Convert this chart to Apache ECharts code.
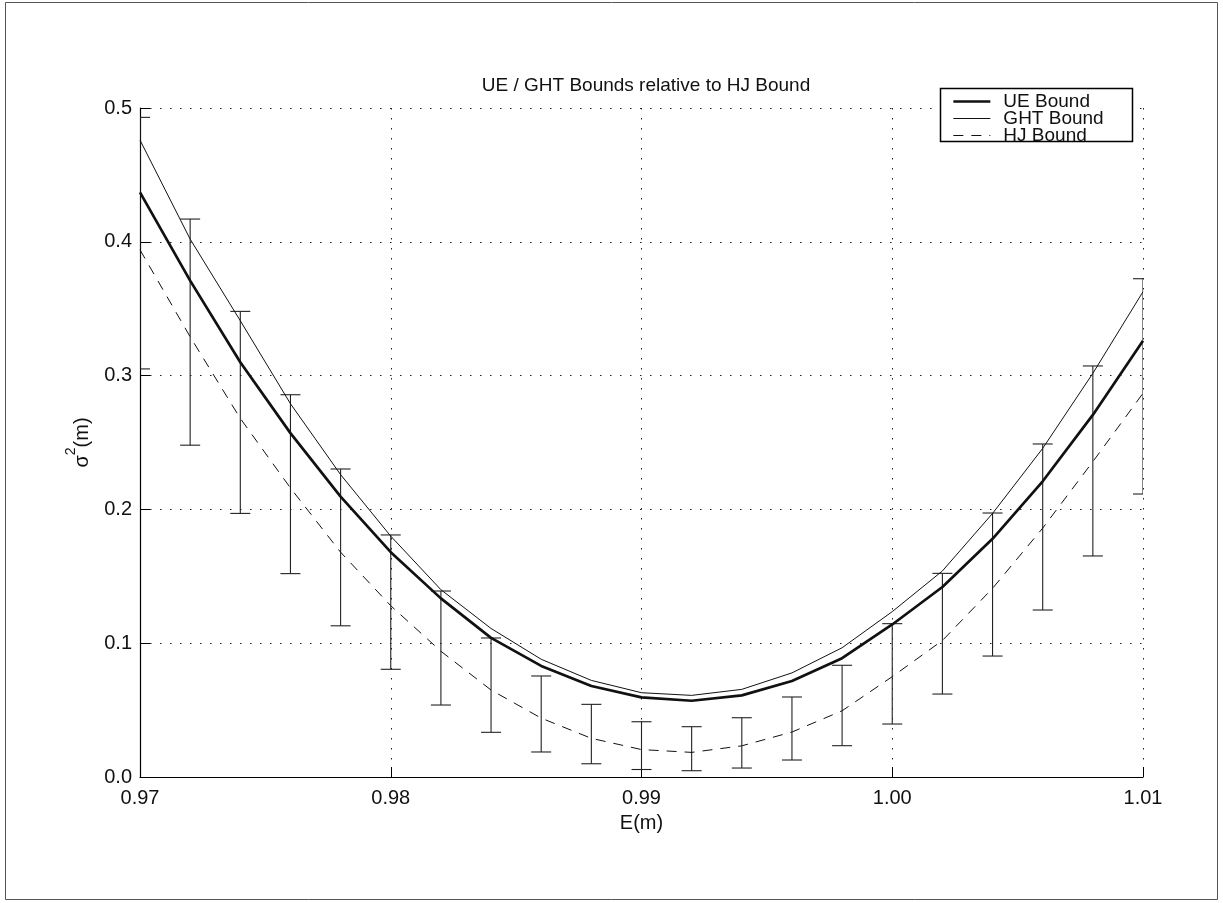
<!DOCTYPE html>
<html>
<head>
<meta charset="utf-8">
<script src="https://cdn.jsdelivr.net/npm/echarts@6/dist/echarts.min.js"></script>
<style>
html,body{margin:0;padding:0;background:#fff;}
#chart{width:1223px;height:903px;}
</style>
</head>
<body>
<div id="chart"></div>
<script>
// ---- data ----
var energies = [0.970, 0.972, 0.974, 0.976, 0.978, 0.980, 0.982, 0.984, 0.986, 0.988, 0.990,
                0.992, 0.994, 0.996, 0.998, 1.000, 1.002, 1.004, 1.006, 1.008, 1.010];
var ueBound  = [0.437, 0.371, 0.310, 0.257, 0.2095, 0.168, 0.1335, 0.104, 0.083, 0.068, 0.0595,
                0.057, 0.061, 0.0717, 0.0888, 0.114, 0.142, 0.178, 0.221, 0.2706, 0.326];
var ghtBound = [0.476, 0.402, 0.341, 0.279, 0.226, 0.180, 0.140, 0.111, 0.088, 0.0722, 0.063,
                0.061, 0.0655, 0.0778, 0.0966, 0.1236, 0.154, 0.197, 0.2456, 0.3017, 0.3627];
var hjBound  = [0.394, 0.329, 0.268, 0.216, 0.168, 0.128, 0.094, 0.065, 0.044, 0.0289, 0.0205,
                0.0184, 0.0233, 0.0336, 0.0495, 0.075, 0.102, 0.141, 0.186, 0.2357, 0.2868];
var errTop   = [0.493, 0.417, 0.348, 0.2857, 0.2302, 0.1809, 0.139, 0.1039, 0.0755, 0.0543, 0.0413,
                0.0376, 0.0443, 0.0598, 0.0835, 0.1146, 0.1522, 0.1973, 0.2489, 0.3072, 0.3724];
var errBottom= [0.305, 0.248, 0.197, 0.152, 0.113, 0.0805, 0.0538, 0.0334, 0.0187, 0.0099, 0.0056,
                0.0047, 0.0067, 0.0127, 0.0234, 0.0396, 0.062, 0.0904, 0.1248, 0.1652, 0.2115];
var xTickLabels = ['0.97', '0.98', '0.99', '1.00', '1.01'];
var yTickLabels = ['0.0', '0.1', '0.2', '0.3', '0.4', '0.5'];
var seriesNames = ['UE Bound', 'GHT Bound', 'HJ Bound'];
var titleText = 'UE / GHT Bounds relative to HJ Bound';

// ---- build ----
function pairs(ys){ return energies.map(function(x,i){ return [x, ys[i]]; }); }
var errData = energies.map(function(x,i){ return [x, errBottom[i], errTop[i]]; });

var FONT = '"Liberation Sans", Arial, Helvetica, sans-serif';
var FS = 20;
var gridDots = { color: '#222', width: 1, type: [1.5, 8.5] };
var styles = [
  { color: '#111', width: 2.7, type: 'solid' },
  { color: '#111', width: 1, type: 'solid' },
  { color: '#111', width: 1, type: [10, 8] }
];

var chart = echarts.init(document.getElementById('chart'), null, {renderer: 'canvas'});
chart.setOption({
  backgroundColor: '#ffffff',
  animation: false,
  title: {
    text: titleText,
    left: 641, top: 71, textAlign: 'center',
    textStyle: { fontFamily: FONT, fontSize: 19, fontWeight: 'normal', color: '#111' }
  },
  grid: { left: 140, right: 80, top: 108, bottom: 126 },
  xAxis: {
    type: 'value', min: 0.97, max: 1.01, interval: 0.01,
    name: 'E(m)', nameLocation: 'middle', nameGap: 36,
    nameTextStyle: { fontFamily: FONT, fontSize: FS, color: '#111' },
    axisLine: { show: true, onZero: false, lineStyle: { color: '#000', width: 1.2 } },
    axisTick: { show: true, inside: true, length: 10, lineStyle: { color: '#000' } },
    axisLabel: { margin: 11, fontFamily: FONT, fontSize: FS, color: '#111',
      formatter: function(v){ var i = Math.round((v - 0.97) / 0.01); return xTickLabels[i] !== undefined ? xTickLabels[i] : ''; } },
    splitLine: { show: true, lineStyle: gridDots }
  },
  yAxis: {
    type: 'value', min: 0, max: 0.5, interval: 0.1,
    name: '{s|σ}{p|2}{s|(m)}', nameLocation: 'middle', nameGap: 48, nameRotate: 90,
    nameTextStyle: { fontFamily: FONT, fontSize: FS, color: '#111',
      rich: {
        s: { fontFamily: FONT, fontSize: FS, color: '#111', lineHeight: 28, verticalAlign: 'bottom' },
        p: { fontFamily: FONT, fontSize: 14, color: '#111', lineHeight: 14, verticalAlign: 'top' }
      } },
    axisLine: { show: true, onZero: false, lineStyle: { color: '#000', width: 1.2 } },
    axisTick: { show: true, inside: true, length: 10, lineStyle: { color: '#000' } },
    axisLabel: { margin: 8, fontFamily: FONT, fontSize: FS, color: '#111',
      formatter: function(v){ var i = Math.round(v / 0.1); return yTickLabels[i] !== undefined ? yTickLabels[i] : ''; } },
    splitLine: { show: true, lineStyle: gridDots }
  },
  legend: {
    data: seriesNames.map(function(n, i){
      return { name: n, lineStyle: { color: styles[i].color, width: styles[i].width, type: styles[i].type } };
    }),
    orient: 'vertical',
    left: 952, top: 92,
    padding: 0,
    itemWidth: 37, itemHeight: 17, itemGap: -2,
    z: 60,
    itemStyle: { opacity: 0 },
    textStyle: { fontFamily: FONT, fontSize: 19, color: '#111', padding: [0,0,0,8] },
    selectedMode: false
  },
  graphic: [
    { type: 'rect', silent: true, z: 0,
      shape: { x: 5.5, y: 2.5, width: 1212, height: 897 },
      style: { fill: 'none', stroke: '#555', lineWidth: 1 } },
    { type: 'rect', silent: true, z: 50,
      shape: { x: 940.5, y: 88.5, width: 192, height: 53 },
      style: { fill: '#ffffff', stroke: '#000', lineWidth: 1.5 } }
  ],
  series: [
    { name: seriesNames[0], type: 'line', data: pairs(ueBound), symbol: 'none',
      lineStyle: styles[0], itemStyle: { color: '#111' }, z: 3 },
    { name: seriesNames[1], type: 'line', data: pairs(ghtBound), symbol: 'none',
      lineStyle: styles[1], itemStyle: { color: '#111' }, z: 3 },
    { name: seriesNames[2], type: 'line', data: pairs(hjBound), symbol: 'none',
      lineStyle: styles[2], itemStyle: { color: '#111' }, z: 3 },
    { name: 'errors', type: 'custom', data: errData, clip: true, z: 2,
      encode: { x: 0, y: [1, 2] },
      renderItem: function(params, api){
        var x = api.value(0);
        var lo = api.coord([x, api.value(1)]);
        var hi = api.coord([x, api.value(2)]);
        var hw = 10;
        var st = { stroke: '#222', lineWidth: 1.1 };
        return { type: 'group', children: [
          { type: 'line', shape: { x1: hi[0], y1: hi[1], x2: lo[0], y2: lo[1] }, style: st },
          { type: 'line', shape: { x1: hi[0]-hw, y1: hi[1], x2: hi[0]+hw, y2: hi[1] }, style: st },
          { type: 'line', shape: { x1: lo[0]-hw, y1: lo[1], x2: lo[0]+hw, y2: lo[1] }, style: st }
        ]};
      }
    }
  ]
});
</script>
</body>
</html>
